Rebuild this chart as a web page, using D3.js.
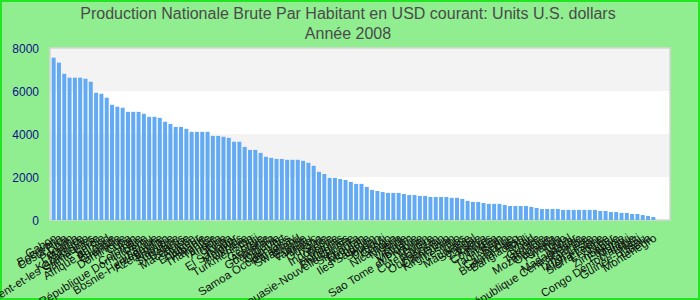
<!DOCTYPE html>
<html lang="fr">
<head>
  <meta charset="UTF-8">
  <title>Production Nationale Brute Par Habitant</title>
  <script src="https://d3js.org/d3.v7.min.js"></script>
  <style>
    body { margin: 0; }
    svg { display: block; font-family: Arial, "Liberation Sans", sans-serif; }
    .title { fill: #4a4a4a; font-size: 16px; text-anchor: middle; }
    .ylab { fill: #10108c; font-size: 12px; text-anchor: end; }
    .xlab { fill: #111; font-size: 11.5px; text-anchor: end; }
  </style>
</head>
<body>
  <svg id="chart" width="700" height="300"></svg>

  <script>
    // pays, triés par valeur décroissante
    const countries = [
      "Gabon", "Botswana", "Costa Rica", "Liban", "Panama", "Maurice", "Kazakhstan",
      "Saint-Vincent-et-les Grenadines", "Sainte-Lucie", "Serbie", "Afrique du Sud", "Bulgarie",
      "Grenade", "Dominique", "Cuba", "Iran", "Colombie", "République Dominicaine", "Pérou",
      "Jamaïque", "Bosnie-Herzégovine", "Azerbaïdjan", "Namibie", "Suriname", "Belarus",
      "Macédoine", "Algérie", "Equateur", "Albanie", "Thaïlande", "Tunisie", "Angola", "Chine",
      "Tonga", "El Salvador", "Maldives", "Ukraine", "Turkménistan", "Fidji", "Géorgie",
      "Arménie", "Guatemala", "Jordanie", "Cap-Vert", "Samoa Occidentales", "Paraguay",
      "Swaziland", "Egypte", "Vanuatu", "Maroc", "Guyana", "Syrie", "Indonésie", "Bolivie",
      "Honduras", "Philippines", "Papouasie-Nouvelle-Guinée", "Sri Lanka", "Bhoutan", "Mongolie",
      "Iles Salomon", "Soudan", "Djibouti", "Congo", "Nicaragua", "Nigeria", "Inde", "Vietnam",
      "Moldavie", "Sao Tome et Principe", "Yémen", "Côte d'Ivoire", "Pakistan", "Ouzbékistan",
      "Cameroun", "Kirghizistan", "Lesotho", "Laos", "Mauritanie", "Sénégal", "Zambie", "Kenya",
      "Comores", "Ghana", "Tadjikistan", "Bénin", "Cambodge", "Burkina Faso", "Bangladesh",
      "Mali", "Tchad", "Guinée", "Tanzanie", "Mozambique", "Ouganda", "Rwanda", "Togo", "Népal",
      "Madagascar", "République Centrafricaine", "Gambie", "Timor-Leste", "Afghanistan",
      "Sierra Leone", "Erythrée", "Niger", "Zimbabwe", "Ethiopie", "Malawi",
      "Congo Démocratique", "Haïti", "Guinée-Bissau", "Libéria", "Montenegro"
    ];

    const values = [
      7550, 7320, 6800, 6620, 6620, 6620, 6570, 6430, 5920, 5870,
      5690, 5360, 5270, 5220, 5030, 5030, 5030, 4940, 4800, 4800,
      4750, 4570, 4470, 4330, 4330, 4240, 4100, 4100, 4100, 4100,
      3910, 3910, 3870, 3820, 3640, 3640, 3400, 3260, 3260, 3120,
      2940, 2890, 2840, 2840, 2800, 2800, 2800, 2750, 2660, 2520,
      2240, 2140, 1960, 1960, 1910, 1860, 1770, 1680, 1680, 1540,
      1400, 1350, 1300, 1260, 1260, 1260, 1210, 1160, 1160, 1120,
      1120, 1070, 1070, 1070, 1070, 1030, 1030, 980, 890, 840,
      840, 790, 750, 750, 750, 700, 650, 650, 650, 650,
      610, 560, 510, 510, 510, 510, 470, 470, 470, 470,
      470, 470, 470, 420, 420, 370, 370, 330, 330, 280,
      280, 230, 190, 140
    ];

    const yTicks = [0, 2000, 4000, 6000, 8000];
    const titleLines = ["Production Nationale Brute Par Habitant en USD courant: Units U.S. dollars", "Année 2008"];

    const data = countries.slice(0, values.length).map((c, i) => ({ name: c, value: values[i] }));

    const svg = d3.select("#chart");
    const W = 700, H = 300;
    const plot = { left: 50, right: 670, top: 48, bottom: 220 };

    // fond vert + bordure
    svg.append("rect").attr("x", 1).attr("y", 1).attr("width", W - 2).attr("height", H - 2)
      .attr("fill", "#90ee90").attr("stroke", "#22e622").attr("stroke-width", 2);

    // titre
    svg.selectAll(".title").data(titleLines).join("text")
      .attr("class", "title")
      .attr("x", 348)
      .attr("y", (d, i) => 19 + i * 20)
      .text(d => d);

    const y = d3.scaleLinear().domain([0, 8000]).range([plot.bottom, plot.top]);
    const x = d3.scaleBand()
      .domain(data.map(d => d.name))
      .range([51, 656])
      .paddingInner(0.25)
      .paddingOuter(0.125);

    // bandes alternées
    const bands = d3.pairs(yTicks);
    svg.selectAll(".band").data(bands).join("rect")
      .attr("class", "band")
      .attr("x", plot.left)
      .attr("width", plot.right - plot.left)
      .attr("y", d => y(d[1]))
      .attr("height", d => y(d[0]) - y(d[1]))
      .attr("fill", (d, i) => i % 2 === 0 ? "#ffffff" : "#f3f3f3");

    // cadre
    svg.append("rect")
      .attr("x", plot.left).attr("y", plot.top)
      .attr("width", plot.right - plot.left).attr("height", plot.bottom - plot.top)
      .attr("fill", "none").attr("stroke", "#d6d6d6").attr("stroke-width", 1.5);

    // axe Y
    const yAxis = svg.append("g")
      .attr("transform", `translate(${plot.left - 11},0)`)
      .call(d3.axisLeft(y).tickValues(yTicks).tickFormat(d3.format("d")).tickSize(0).tickPadding(0));
    yAxis.select(".domain").remove();
    yAxis.selectAll("text").attr("class", "ylab").attr("font-size", null).attr("font-family", null)
      .attr("fill", null).attr("dy", "0.35em");

    // barres
    svg.selectAll(".bar").data(data).join("rect")
      .attr("class", "bar")
      .attr("x", d => x(d.name))
      .attr("width", x.bandwidth())
      .attr("y", d => y(d.value))
      .attr("height", d => y(0) - y(d.value))
      .attr("fill", "#62aaf3");

    // étiquettes X tournées
    const xAxis = svg.append("g")
      .attr("transform", `translate(0,${plot.bottom})`)
      .call(d3.axisBottom(x).tickSize(0).tickPadding(0));
    xAxis.select(".domain").remove();
    xAxis.selectAll("text")
      .attr("class", "xlab")
      .attr("font-size", null).attr("font-family", null).attr("fill", null)
      .attr("y", 0).attr("dy", null)
      .attr("transform", "translate(4,20) rotate(-32)");
  </script>
</body>
</html>
